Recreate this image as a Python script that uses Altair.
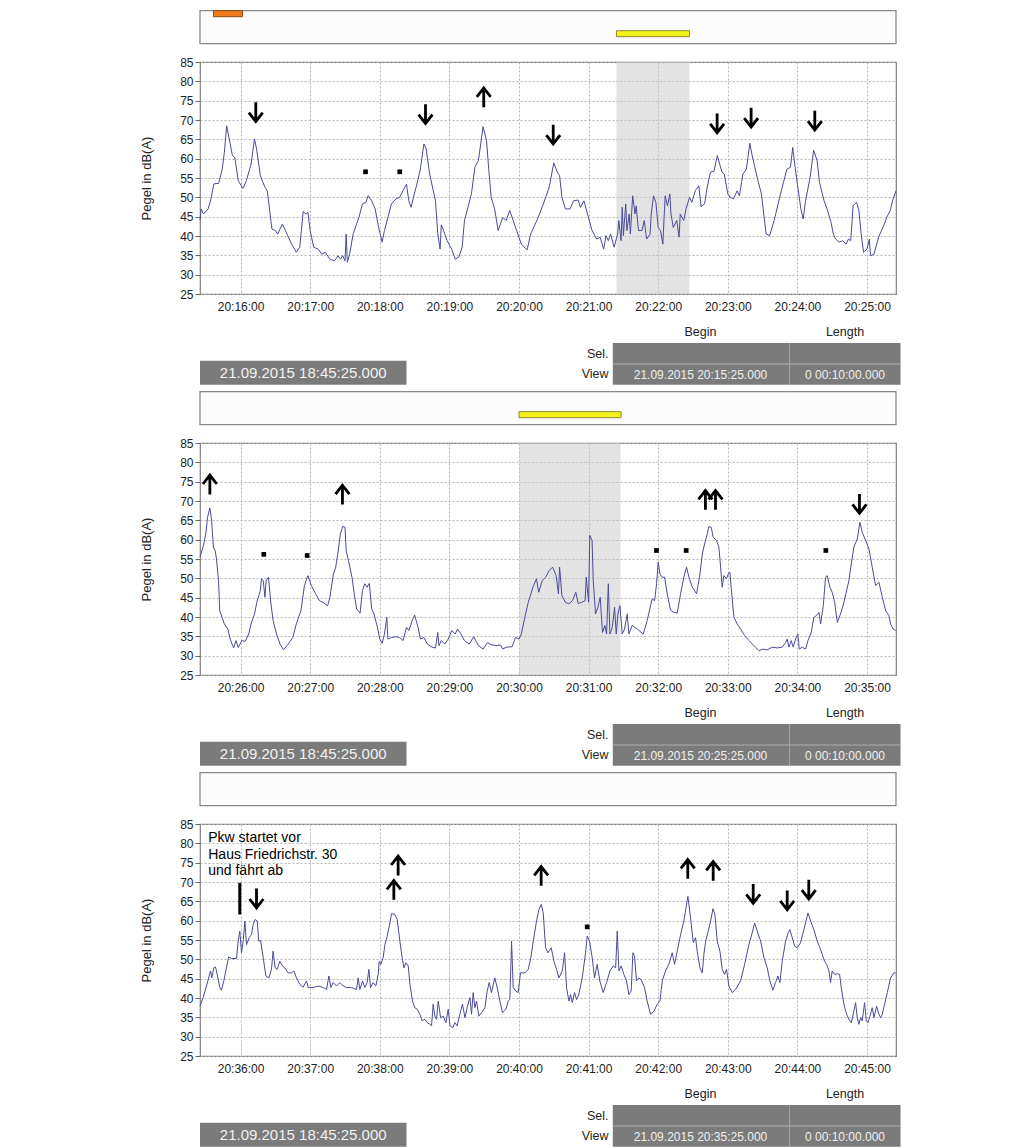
import altair as alt
import pandas as pd

FONT = "Liberation Sans"
W, H = 696, 232
LINE_COLOR = "#4b4b99"

# view begin of each panel, in seconds after 20:00:00 (20:15:25, 20:25:25, 20:35:25)
view_start_sec = [925, 1525, 2125]
view_begin = ["21.09.2015 20:15:25.000", "21.09.2015 20:25:25.000", "21.09.2015 20:35:25.000"]
view_length = "0 00:10:00.000"
cursor_time = "21.09.2015 18:45:25.000"

# ---- level curves: seconds after view begin, level in dB(A) ----
p1_t = [0, 1, 3, 7, 9, 12, 16, 19, 21, 23, 26, 28, 30, 33, 37, 40, 44, 47, 49, 52, 56, 58, 62, 65, 67, 71, 75, 79, 83, 86,
        89, 91, 93, 95, 98, 102, 105, 108, 112, 116, 119, 121, 123, 125, 126, 127, 129, 132, 135, 137, 140, 143, 145, 148,
        151, 154, 157, 159, 162, 165, 169, 172, 175, 178, 180, 182, 184, 187, 190, 193, 195, 198, 203, 205, 207, 208, 210,
        213, 217, 220, 223, 226, 228, 231, 234, 237, 240, 242, 244, 247, 249, 251, 254, 257, 261, 264, 267, 270, 273, 277,
        282, 285, 291, 296, 301, 305, 308, 310, 312, 315, 319, 322, 326, 328, 331, 334, 338, 342, 345, 348, 350, 352, 354,
        357, 360, 361, 363, 364, 365, 367, 368, 370, 371, 373, 375, 376, 378, 381, 383, 385, 388, 389, 391, 393, 395, 397,
        399, 401, 403, 405, 406, 408, 411, 413, 414, 417, 419, 422, 424, 427, 430, 432, 435, 437, 440, 443, 446, 448, 450,
        452, 455, 457, 460, 463, 465, 468, 471, 474, 476, 478, 481, 484, 488, 491, 495, 499, 503, 506, 509, 511, 513, 515,
        518, 520, 522, 526, 529, 532, 534, 538, 541, 544, 546, 548, 551, 554, 557, 559, 561, 563, 566, 568, 570, 572, 575,
        577, 578, 581, 585, 590, 592, 595, 597, 600]
p1_db = [44.0, 47.0, 45.7, 47.0, 49.0, 53.5, 53.6, 57.0, 61.6, 68.5, 63.8, 60.8, 60.3, 54.3, 52.3, 54.3, 58.6, 65.1, 62.1,
         55.6, 52.6, 51.7, 41.8, 41.4, 40.5, 43.1, 40.5, 37.9, 35.8, 37.1, 46.4, 45.7, 46.1, 41.4, 37.1, 36.6, 35.3, 35.8,
         34.0, 33.6, 34.9, 34.0, 34.9, 33.6, 40.5, 33.2, 35.3, 40.5, 43.1, 44.8, 48.3, 48.7, 50.4, 49.1, 47.0, 42.2, 38.4,
         41.4, 44.8, 48.3, 49.6, 50.0, 51.7, 53.4, 49.1, 47.4, 50.0, 53.4, 57.3, 63.8, 62.5, 56.0, 49.1, 40.5, 36.6, 42.9,
         41.4, 38.8, 36.6, 34.0, 34.5, 37.1, 44.0, 47.4, 50.9, 57.8, 59.5, 63.8, 68.3, 64.7, 56.9, 50.0, 47.0, 41.4, 44.8,
         44.0, 46.6, 44.0, 41.4, 37.9, 36.4, 40.5, 44.4, 48.3, 52.6, 58.9, 56.5, 55.6, 50.0, 47.0, 47.0, 49.1, 49.3, 47.4,
         49.1, 45.7, 41.4, 39.2, 39.7, 36.6, 40.1, 38.8, 40.5, 37.1, 40.5, 44.0, 38.8, 47.4, 40.1, 48.3, 41.4, 45.7, 40.5,
         50.4, 45.7, 47.8, 41.4, 41.4, 44.0, 39.2, 40.5, 45.7, 50.4, 48.7, 42.2, 41.4, 37.9, 50.4, 47.8, 50.9, 45.7, 42.2,
         44.0, 39.7, 45.7, 44.0, 47.0, 50.0, 48.7, 51.7, 53.0, 47.6, 48.3, 52.2, 56.5, 56.7, 60.8, 58.6, 56.5, 56.0, 50.9,
         50.0, 49.6, 51.7, 50.4, 56.0, 57.3, 64.0, 60.8, 58.2, 54.3, 50.9, 40.5, 40.1, 44.0, 49.1, 53.9, 57.3, 57.8, 62.9,
         57.8, 53.4, 47.0, 44.4, 49.1, 55.2, 62.2, 59.5, 53.9, 49.1, 46.6, 43.5, 40.5, 39.2, 38.4, 38.8, 37.9, 39.2, 38.8,
         47.8, 48.7, 46.6, 40.5, 35.8, 36.6, 39.2, 34.9, 35.3, 39.7, 43.1, 44.8, 46.6, 49.1, 51.7]

p2_t = [0, 3, 5, 6.5, 8.5, 10, 11.5, 13, 14, 16, 17, 19, 21, 24, 26, 29, 31, 33, 36, 39, 42, 44, 47, 49, 52, 53, 54.5, 56,
        57, 59, 61, 63, 66, 69, 72, 75, 77, 80, 83, 87, 90, 93, 96, 99, 103, 106, 110, 112, 115, 117, 119, 121, 123, 125,
        126, 128, 131, 133, 135, 138, 140, 142, 144, 146, 148, 150, 153, 155, 157, 159, 161, 162, 165, 169, 172, 175, 178,
        180, 183, 185, 188, 190, 193, 196, 200, 203, 205, 206, 208, 211, 214, 217, 220, 222, 225, 228, 232, 236, 240, 244,
        248, 251, 256, 259, 261, 264, 269, 272, 275, 277, 280, 283, 287, 290, 292, 295, 298, 301, 304, 307, 309, 310, 312,
        315, 318, 321, 324, 326, 329, 332, 333, 335, 336, 338, 339, 341, 343, 345, 347, 349, 350.5, 352, 353.4, 355.4,
        357.4, 358.8, 360.3, 362, 364, 366, 368.3, 369.7, 372.6, 376.9, 382.1, 385.5, 389.8, 391.9, 393.6, 395, 396.5,
        398.5, 400.5, 402.8, 405.6, 408.5, 411.4, 414.3, 417.1, 419.4, 421.5, 424.4, 428.1, 431, 433, 435, 437.3, 438.7,
        440.7, 442.4, 445.3, 447.3, 448.8, 450.2, 451.6, 453.9, 455.4, 456.8, 458, 460.3, 463.1, 466, 469.5, 473.2, 477.5,
        481.8, 485.5, 489, 493.3, 497.6, 501.9, 504.8, 506.2, 507.7, 509.7, 511.4, 513.4, 515.4, 516.6, 519.2, 522.1,
        524.1, 526.9, 529.2, 531.5, 533.6, 535, 537.3, 539.3, 540.7, 543, 545, 547.1, 549.4, 552.2, 555.1, 559.4, 561.4,
        563.7, 566.6, 568.9, 570.9, 573.8, 576.7, 579.5, 582.4, 585.3, 588.2, 591.1, 593.9, 595.3, 597.6, 599.7]
p2_db = [55.5, 58.5, 61.5, 65.8, 68.2, 65.0, 58.1, 57.2, 55.5, 49.4, 41.6, 39.9, 38.2, 36.9, 34.3, 32.0, 33.9, 32.1, 33.9,
         33.7, 35.6, 38.2, 40.8, 43.8, 46.8, 49.9, 49.4, 45.1, 49.4, 50.3, 43.8, 39.1, 35.6, 33.0, 31.5, 32.6, 33.4, 34.7,
         38.2, 41.6, 48.1, 50.7, 48.1, 46.4, 44.2, 43.8, 42.9, 45.1, 51.1, 52.9, 56.8, 61.5, 63.4, 63.2, 57.2, 54.6, 50.3,
         46.0, 42.1, 41.0, 46.8, 48.6, 47.7, 48.7, 42.1, 40.8, 37.3, 34.3, 33.2, 35.6, 39.9, 34.3, 34.7, 34.9, 34.7, 33.9,
         37.3, 36.5, 39.1, 40.5, 37.3, 34.3, 34.7, 33.0, 32.2, 32.0, 36.0, 32.6, 33.9, 33.0, 34.3, 36.5, 35.6, 36.9, 35.6,
         33.9, 33.0, 34.9, 32.6, 31.7, 33.4, 32.8, 32.6, 32.8, 31.7, 32.2, 32.3, 34.7, 34.3, 35.6, 39.9, 43.8, 47.7, 49.9,
         46.4, 49.4, 50.3, 52.0, 52.9, 50.7, 46.0, 52.9, 45.5, 43.8, 43.4, 44.2, 46.4, 43.5, 43.8, 44.2, 50.3, 43.8, 61.1,
         59.8, 49.4, 40.8, 42.5, 45.1, 36.0, 37.8, 35.6, 48.6, 35.6, 37.3, 42.5, 35.6, 40.8, 42.9, 35.6, 36.9, 40.8, 35.6,
         37.8, 36.9, 35.6, 39.1, 44.7, 44.2, 48.6, 54.2, 51.1, 50.3, 50.3, 46.0, 41.8, 41.2, 41.0, 46.0, 50.3, 52.9, 50.3,
         47.7, 46.0, 51.1, 56.3, 58.9, 61.5, 63.4, 63.2, 60.6, 59.8, 58.1, 52.9, 47.7, 50.7, 49.9, 51.1, 51.6, 47.3, 39.9,
         38.2, 36.9, 35.2, 33.9, 32.6, 31.3, 31.7, 31.5, 32.2, 32.0, 32.2, 33.4, 34.3, 32.2, 33.9, 32.2, 34.3, 35.6, 31.7,
         32.2, 31.7, 33.9, 36.0, 39.9, 40.4, 41.2, 38.2, 42.9, 50.3, 50.7, 47.7, 46.4, 43.8, 38.6, 40.8, 43.8, 49.4, 53.7,
         58.1, 60.2, 64.5, 61.9, 59.8, 57.6, 52.9, 48.1, 49.0, 45.1, 41.6, 40.4, 38.2, 36.9, 36.5]

p3_t = [0, 2.7, 5.6, 7.9, 9.1, 10.2, 11.9, 13.4, 15.1, 17.1, 18.5, 20.5, 22.8, 24.6, 27.2, 31.5, 32.9, 34.3, 35.8, 37.2,
        38.7, 40.1, 42.4, 44.4, 45.8, 47.6, 49.3, 50.7, 52.2, 54.5, 56.8, 59.4, 61.6, 63.0, 64.8, 66.5, 68.8, 71.1, 73.1,
        76.0, 78.9, 80.9, 83.2, 86.1, 88.9, 91.8, 93.3, 97.6, 101.9, 106.2, 109.1, 111.1, 112.8, 114.8, 117.7, 120.6,
        123.4, 126.3, 130.6, 134.9, 136.4, 137.8, 140.1, 142.1, 144.1, 145.6, 147.0, 149.3, 151.6, 153.6, 154.5, 155.9,
        157.9, 159.4, 161.4, 163.7, 165.1, 168.0, 170.0, 172.3, 174.3, 175.8, 177.5, 179.5, 181.0, 183.2, 185.2, 187.2,
        189.5, 191.5, 193.8, 195.9, 198.2, 199.6, 201.0, 202.5, 203.9, 205.4, 207.4, 209.7, 212.0, 214.0, 215.5, 217.8,
        219.7, 221.7, 224.0, 226.3, 228.4, 230.6, 232.7, 234.1, 235.5, 237.0, 238.4, 240.4, 242.7, 245.6, 247.6, 249.3,
        251.3, 254.2, 256.2, 258.5, 260.8, 263.7, 265.7, 267.1, 268.6, 270.0, 272.3, 274.3, 276.3, 280.1, 283.0, 285.2,
        287.3, 290.1, 292.2, 294.2, 295.9, 297.9, 299.9, 302.8, 305.1, 307.4, 309.4, 312.3, 314.3, 316.0, 318.0, 319.4,
        320.9, 322.9, 324.6, 326.6, 329.5, 332.4, 333.8, 335.8, 338.1, 340.1, 342.4, 344.7, 347.6, 350.5, 353.4, 356.2,
        358.3, 359.7, 361.1, 363.1, 365.4, 367.7, 369.7, 371.7, 373.2, 374.6, 376.3, 378.3, 380.3, 383.2, 385.5, 388.4,
        391.3, 394.2, 396.5, 398.5, 401.3, 404.2, 407.1, 409.1, 411.4, 414.3, 417.1, 420.6, 422.9, 425.2, 427.2, 428.6,
        431.0, 433.0, 434.4, 435.9, 437.8, 440.2, 442.2, 443.9, 445.9, 448.2, 450.2, 452.2, 453.9, 455.9, 458.8, 461.7,
        466.0, 469.5, 473.2, 476.1, 478.1, 480.4, 483.3, 486.2, 489.0, 491.3, 493.9, 496.2, 498.2, 499.9, 501.9, 504.8,
        507.1, 508.5, 510.6, 512.6, 514.9, 517.7, 520.6, 524.1, 526.4, 529.2, 532.1, 534.4, 536.4, 538.4, 540.2, 542.2,
        543.6, 545.0, 547.1, 549.4, 551.4, 552.8, 555.1, 557.4, 559.4, 561.4, 563.1, 565.2, 566.6, 568.0, 569.5, 570.9,
        572.9, 574.4, 575.8, 577.5, 579.5, 581.0, 583.3, 585.3, 586.7, 588.2, 590.2, 592.5, 595.3, 598.2, 599.7]
p3_db = [37.9, 40.1, 43.1, 45.7, 47.0, 45.2, 47.8, 48.0, 45.7, 42.7, 42.0, 44.4, 47.8, 50.6, 50.2, 50.2, 54.7, 57.3, 51.7,
         54.7, 59.9, 53.8, 55.6, 56.4, 59.0, 60.3, 59.9, 54.7, 54.9, 50.4, 45.7, 45.2, 47.4, 52.1, 47.8, 47.4, 49.5, 48.3,
         47.8, 46.5, 46.5, 47.0, 45.2, 43.5, 42.8, 44.4, 42.7, 42.7, 43.1, 42.7, 42.2, 45.7, 42.7, 44.0, 43.1, 44.0, 43.1,
         42.7, 42.7, 42.2, 45.2, 42.2, 44.4, 42.7, 44.0, 47.4, 42.7, 44.0, 43.1, 46.1, 49.5, 48.7, 50.4, 53.8, 56.0, 59.4,
         61.8, 61.6, 60.3, 54.7, 50.4, 47.8, 49.1, 48.3, 43.5, 39.2, 37.5, 37.1, 35.8, 34.1, 34.5, 33.6, 33.2, 32.8, 38.4,
         35.3, 34.5, 39.2, 34.9, 35.3, 33.6, 37.1, 32.8, 32.3, 33.6, 32.8, 35.8, 38.4, 34.9, 37.9, 40.1, 35.8, 41.4, 37.5,
         39.2, 35.3, 36.2, 37.5, 41.8, 44.0, 41.4, 45.2, 42.7, 39.2, 36.2, 37.1, 39.2, 39.6, 54.7, 42.7, 41.8, 41.4, 46.5,
         46.5, 47.4, 50.4, 54.7, 59.9, 62.9, 64.2, 62.0, 53.0, 51.7, 53.0, 49.5, 47.4, 45.2, 47.0, 51.7, 42.7, 39.2, 40.9,
         38.8, 41.4, 39.6, 40.9, 45.2, 51.7, 56.0, 54.7, 50.4, 45.2, 48.7, 44.4, 41.4, 44.0, 47.0, 48.3, 47.8, 57.3, 47.0,
         48.3, 46.1, 44.4, 40.9, 41.8, 51.7, 50.8, 44.4, 45.2, 44.8, 42.7, 39.2, 35.8, 36.6, 38.4, 39.2, 44.4, 47.0, 48.7,
         51.7, 48.7, 52.1, 56.4, 59.9, 66.3, 60.7, 54.3, 55.6, 52.1, 47.8, 46.5, 51.3, 54.7, 56.9, 59.9, 63.1, 61.6, 54.7,
         52.1, 47.4, 46.1, 47.4, 43.1, 41.4, 42.2, 44.4, 48.7, 53.8, 56.9, 59.4, 57.3, 54.7, 50.4, 47.8, 44.4, 42.0, 44.0,
         45.7, 44.0, 49.5, 54.7, 56.9, 57.7, 55.6, 53.4, 53.0, 54.3, 57.7, 62.0, 59.9, 57.7, 54.7, 53.0, 51.3, 49.5, 48.7,
         47.0, 44.0, 47.0, 46.1, 46.3, 46.1, 42.7, 38.4, 35.8, 34.5, 33.6, 35.8, 38.8, 34.9, 33.2, 34.9, 34.1, 38.8, 34.1,
         33.6, 35.3, 37.5, 34.9, 37.9, 35.8, 34.9, 35.8, 38.4, 41.4, 45.2, 46.5, 46.5]

curves_t = [p1_t, p2_t, p3_t]
curves_db = [p1_db, p2_db, p3_db]

# ---- selections (gray band) per panel: seconds after view begin ----
sel_start = [359.0, 275.0, None]
sel_end = [422.0, 362.5, None]

# ---- event bars in the strip above each panel ----
bar_panel = [0, 0, 1]
bar_start = [11.6, 359.0, 275.0]
bar_end = [36.6, 422.0, 363.0]
bar_row = ["top", "low", "low"]
bar_fill = ["#f07c1c", "#f4f21a", "#f4f21a"]
bar_stroke = ["#8a4a14", "#8a8a30", "#8a8a30"]

# ---- arrows (vehicle direction marks) ----
arrow_panel = [0, 0, 0, 0, 0, 0, 0,
               1, 1, 1, 1, 1,
               2, 2, 2, 2, 2, 2, 2, 2, 2]
arrow_t = [48.1, 194.4, 244.6, 304.5, 445.8, 475.1, 530.0,
           8.5, 122.8, 435.7, 444.4, 568.5,
           48.7, 167.1, 170.8, 294.1, 420.5, 442.4, 476.9, 506.2, 524.8]
arrow_db = [72.1, 71.6, 75.8, 66.3, 69.2, 70.7, 69.9,
            74.2, 71.6, 70.2, 70.2, 69.3,
            65.8, 67.9, 74.2, 71.5, 73.3, 72.8, 67.0, 65.3, 68.1]
arrow_dir = ["down", "down", "up", "down", "down", "down", "down",
             "up", "up", "up", "up", "down",
             "down", "up", "up", "up", "up", "up", "down", "down", "down"]

# ---- small square marks ----
dot_panel = [0, 0, 1, 1, 1, 1, 1, 2]
dot_t = [142.7, 172.2, 55.0, 92.4, 393.5, 419.1, 539.5, 333.8]
dot_db = [56.6, 56.6, 56.2, 55.9, 57.2, 57.2, 57.2, 58.4]

# ---- note in panel 3 ----
note_lines = ["Pkw startet vor", "Haus Friedrichstr. 30", "und fährt ab"]
note_t = [7.1, 7.1, 7.1]
note_db = [80.35, 76.06, 71.74]
marker_t = [34.3]
marker_db_low = [61.6]
marker_db_high = [69.8]

y_ticks = [25, 30, 35, 40, 45, 50, 55, 60, 65, 70, 75, 80, 85]

GRID = "#b4b4b4"
BOX_GRAY = "#7b7b7b"
ARROW_SHAPES = {
    "down": "M0,-1L0,0.95M-0.72,0.08L0,1L0.72,0.08",
    "up": "M0,1L0,-0.95M-0.72,-0.08L0,-1L0.72,-0.08",
}
one = pd.DataFrame({"k": [0]})


def build_panel(i):
    s = view_start_sec[i]
    xsc = alt.Scale(domain=[s, s + 600], nice=False, zero=False)
    ysc = alt.Scale(domain=[25, 85], nice=False, zero=False)
    first = s + (60 - s % 60) % 60
    xticks = list(range(first, s + 601, 60))
    xaxis = alt.Axis(values=xticks, labelExpr="'20:' + floor(datum.value / 60) + ':00'", title=None,
                     grid=True, gridColor=GRID, gridDash=[2, 2], ticks=False, domain=False,
                     labelOverlap=False, labelPadding=7, labelFontSize=12, labelColor="#222222",
                     labelFont=FONT)
    yaxis = alt.Axis(values=y_ticks, tickCount=len(y_ticks), title="Pegel in dB(A)", grid=True,
                     gridColor=GRID, gridDash=[2, 2], ticks=True, tickSize=5, tickColor="#666666",
                     domain=False, labelOverlap=False, labelFlush=False, labelPadding=2,
                     labelFontSize=12, labelColor="#222222", labelFont=FONT,
                     titleFont=FONT, titleFontSize=13, titleFontWeight="normal", titleColor="#222222",
                     titlePadding=26)
    X = lambda f="sec": alt.X(f + ":Q", scale=xsc)
    Y = lambda f="db": alt.Y(f + ":Q", scale=ysc)

    layers = []
    cdf = pd.DataFrame({"sec": [s + t for t in curves_t[i]], "db": curves_db[i]})

    if sel_start[i] is not None:
        sdf = pd.DataFrame({"sec": [s + sel_start[i]], "sec2": [s + sel_end[i]]})
        layers.append(alt.Chart(sdf).mark_rect(color="#c8c8c8", opacity=0.5).encode(
            x=X(), x2="sec2:Q", y=alt.value(0), y2=alt.value(H)))

    layers.append(alt.Chart(cdf).mark_line(color=LINE_COLOR, strokeWidth=1).encode(
        x=alt.X("sec:Q", scale=xsc, axis=xaxis),
        y=alt.Y("db:Q", scale=ysc, axis=yaxis)))

    for d in ("down", "up"):
        sel = [k for k in range(len(arrow_t)) if arrow_panel[k] == i and arrow_dir[k] == d]
        if not sel:
            continue
        adf = pd.DataFrame({"sec": [s + arrow_t[k] for k in sel], "db": [arrow_db[k] for k in sel]})
        layers.append(alt.Chart(adf).mark_point(shape=ARROW_SHAPES[d], filled=False, size=370,
                                                stroke="black", strokeWidth=2.8, opacity=1,
                                                strokeJoin="miter", strokeCap="butt").encode(
            x=X(), y=Y()))

    ddf = pd.DataFrame({"sec": [s + t for p, t in zip(dot_panel, dot_t) if p == i],
                        "db": [d for p, d in zip(dot_panel, dot_db) if p == i]})
    layers.append(alt.Chart(ddf).mark_square(color="black", size=22, opacity=1).encode(x=X(), y=Y()))

    if i == 2:
        ndf = pd.DataFrame({"sec": [s + t for t in note_t], "db": note_db, "txt": note_lines})
        layers.append(alt.Chart(ndf).mark_text(font=FONT, fontSize=14, color="black", align="left",
                                               baseline="alphabetic").encode(
            x=X(), y=Y(), text="txt:N"))
        mdf = pd.DataFrame({"sec": [s + t for t in marker_t], "db": marker_db_low, "db2": marker_db_high})
        layers.append(alt.Chart(mdf).mark_rule(color="black", strokeWidth=3).encode(
            x=X(), y=Y(), y2="db2:Q"))

    # strip above the plot
    layers.append(alt.Chart(one).mark_rect(fill="#fcfcfc", stroke="#8a8a8a", strokeWidth=1.3).encode(
        x=alt.value(0), x2=alt.value(W), y=alt.value(-51.3), y2=alt.value(-18.3)))
    bdf = pd.DataFrame({"sec": [s + v for p, v in zip(bar_panel, bar_start) if p == i],
                        "sec2": [s + v for p, v in zip(bar_panel, bar_end) if p == i],
                        "row": [r for p, r in zip(bar_panel, bar_row) if p == i],
                        "fill": [f for p, f in zip(bar_panel, bar_fill) if p == i],
                        "stroke": [f for p, f in zip(bar_panel, bar_stroke) if p == i]})
    if len(bdf):
        for row, (y0, y1) in {"top": (-51.3, -45.3), "low": (-31.3, -25.3)}.items():
            sub = bdf[bdf["row"] == row]
            if len(sub):
                layers.append(alt.Chart(sub).mark_rect(strokeWidth=1).encode(
                    x=X(), x2="sec2:Q", y=alt.value(y0), y2=alt.value(y1),
                    fill=alt.Fill("fill:N", scale=None), stroke=alt.Stroke("stroke:N", scale=None)))

    # info area below the plot
    layers.append(alt.Chart(one).mark_rect(fill=BOX_GRAY).encode(
        x=alt.value(412.8), x2=alt.value(700.5), y=alt.value(281), y2=alt.value(322.7)))
    layers.append(alt.Chart(one).mark_rule(color="#b0b0b0", strokeWidth=1).encode(
        x=alt.value(412.8), x2=alt.value(700.5), y=alt.value(302)))
    layers.append(alt.Chart(one).mark_rule(color="#a5a5a5", strokeWidth=1).encode(
        x=alt.value(589.5), y=alt.value(281), y2=alt.value(322.7)))
    layers.append(alt.Chart(one).mark_rect(fill=BOX_GRAY).encode(
        x=alt.value(0), x2=alt.value(206.5), y=alt.value(298.7), y2=alt.value(322.7)))

    def txt(label, x, y, size, color, align="center"):
        return alt.Chart(one).mark_text(font=FONT, fontSize=size, color=color, align=align,
                                        baseline="middle").encode(
            x=alt.value(x), y=alt.value(y), text=alt.value(label))

    layers.append(txt("Begin", 500.5, 270.4, 12.5, "#222222"))
    layers.append(txt("Length", 645, 270.4, 12.5, "#222222"))
    layers.append(txt("Sel.", 408.5, 291.8, 12.5, "#222222", "right"))
    layers.append(txt("View", 408.5, 312.2, 12.5, "#222222", "right"))
    layers.append(txt(view_begin[i], 500.5, 312.5, 12, "#f0f0f0"))
    layers.append(txt(view_length, 645, 312.5, 12, "#f0f0f0"))
    layers.append(txt(cursor_time, 103.2, 310.8, 15, "#f2f2f2"))

    return alt.layer(*layers).properties(width=W, height=H)


chart = alt.vconcat(build_panel(0), build_panel(1), build_panel(2), spacing=149, bounds="flush").properties(
    padding={"left": 132, "top": 1, "right": 5, "bottom": 2}, background="white"
).configure_view(stroke="#808080", strokeWidth=1.2)

chart.save("out.html", embed_options={"renderer": "svg", "actions": False})
